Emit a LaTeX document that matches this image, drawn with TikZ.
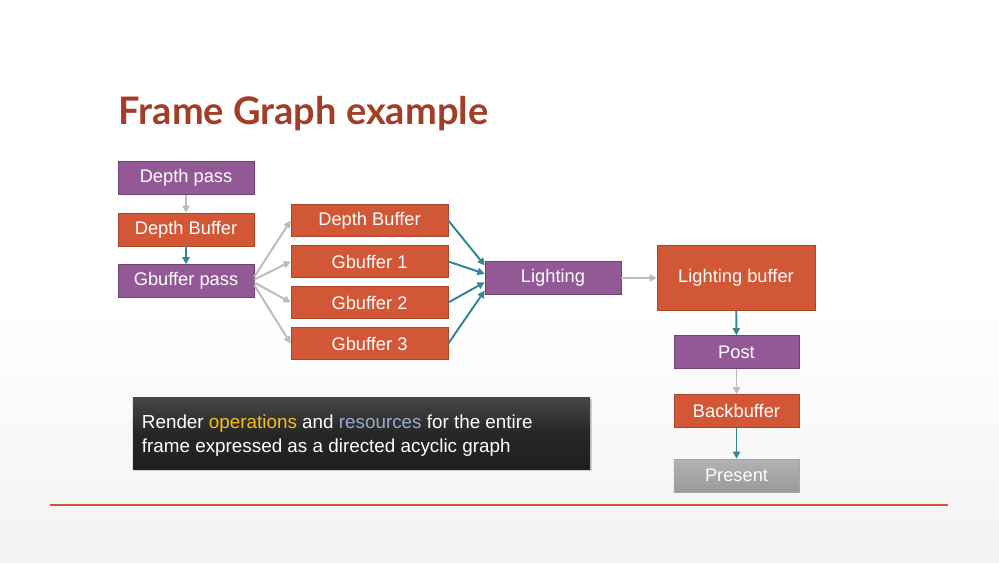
\documentclass[tikz,border=0pt]{standalone}
\usepackage{fontspec}
\setmainfont{Liberation Sans}
\newfontfamily\titlefont{Lato}
\usetikzlibrary{arrows.meta, shadows}

\definecolor{passcol}{RGB}{146,89,150}
\definecolor{rescol}{RGB}{209,87,55}
\definecolor{titlecol}{RGB}{163,62,38}
\definecolor{tealcol}{RGB}{52,134,150}
\definecolor{greycol}{RGB}{188,188,188}
\definecolor{opcol}{RGB}{246,190,30}
\definecolor{rescol2}{RGB}{150,172,205}

\begin{document}
\begin{tikzpicture}[
    x=0.025cm, y=-0.025cm,
    box/.style={rectangle, inner sep=0pt, text=white,
                font=\fontsize{13}{15}\selectfont,
                minimum width=3.4cm, minimum height=0.825cm},
    pass/.style={box, fill=passcol, draw=passcol!75!black},
    res/.style={box, fill=rescol, draw=rescol!80!black},
    resmid/.style={res, minimum width=3.925cm, minimum height=0.8cm},
    outbox/.style={box, minimum width=3.125cm},
    write/.style={-{Triangle[length=1.8mm, width=1.8mm]}, line width=1.4pt, greycol},
    read/.style={-{Triangle[length=1.8mm, width=1.8mm]}, line width=1.4pt, tealcol},
]
% slide background
\useasboundingbox (0,0) rectangle (999,562);
\fill[white] (0,0) rectangle (999,310);
\shade[top color=white, bottom color=black!5] (0,310) rectangle (999,562);

\node[anchor=base west, font=\titlefont\bfseries\fontsize{27}{31}\selectfont, text=titlecol]
    (title) at (114,124) {Frame Graph example};

% left column
\node[pass] (DP)  at (186,178) {Depth pass};
\node[res]  (DB)  at (186,229.5) {Depth Buffer};
\node[pass] (GP)  at (186,281) {Gbuffer pass};

% gbuffer targets
\node[resmid] (DB2) at (369.5,220.5) {Depth Buffer};
\node[resmid] (G1)  at (369.5,261.5) {Gbuffer 1};
\node[resmid] (G2)  at (369.5,302.5) {Gbuffer 2};
\node[resmid] (G3)  at (369.5,343.5) {Gbuffer 3};

\node[pass] (L)  at (553,278) {Lighting};
\node[res, minimum width=3.95cm, minimum height=1.625cm] (LB) at (736,278) {Lighting buffer};

% right column
\node[pass, outbox] (P)  at (736.5,352) {Post};
\node[res, outbox]  (BB) at (736.5,411) {Backbuffer};
\node[outbox, top color=black!30, bottom color=black!40, draw=black!35] (PR) at (736.5,475.5) {Present};

\draw[write] (DP) -- (DB);
\draw[read]  (DB) -- (GP);
\draw[write] ([yshift=3pt]GP.east) -- (DB2.west);
\draw[write] ([yshift=1pt]GP.east) -- (G1.west);
\draw[write] ([yshift=-1pt]GP.east) -- (G2.west);
\draw[write] ([yshift=-3pt]GP.east) -- (G3.west);
\draw[read]  (DB2.east) -- ([yshift=9pt]L.west);
\draw[read]  (G1.east)  -- ([yshift=3pt]L.west);
\draw[read]  (G2.east)  -- ([yshift=-3pt]L.west);
\draw[read]  (G3.east)  -- ([yshift=-9pt]L.west);
\draw[write] (L) -- (LB);
\draw[read]  (LB) -- (P);
\draw[write] (P) -- (BB);
\draw[read]  (BB) -- (PR);

% summary box
\node[rectangle, minimum width=11.425cm, minimum height=1.8cm, inner sep=0pt,
      top color=black!72, bottom color=black!88, middle color=black!85,
      drop shadow={opacity=0.35, shadow xshift=0.5mm, shadow yshift=-0.6mm}]
    (note) at (361.5,433) {};
\node[anchor=west, align=left, text=white, font=\fontsize{13.4}{16.8}\selectfont, inner sep=0pt]
    (notetext) at ([xshift=0.225cm, yshift=-0.07cm]note.west)
    {Render \textcolor{opcol}{operations} and \textcolor{rescol2}{resources} for the entire\\
     frame expressed as a directed acyclic graph};

\draw[rescol, line width=0.8pt] (50,505) -- (948,505);
\end{tikzpicture}
\end{document}
